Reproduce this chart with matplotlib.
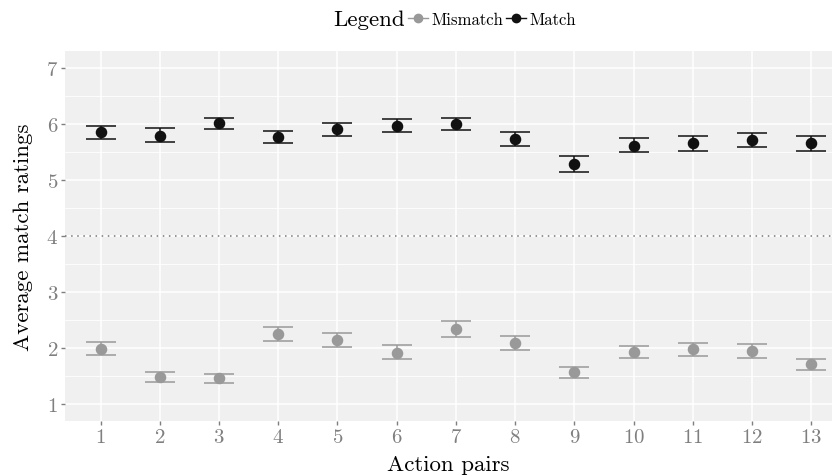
import matplotlib
matplotlib.use("Agg")
import matplotlib.pyplot as plt
from matplotlib.lines import Line2D
import numpy as np

plt.rcParams['font.family'] = ['cmr10', 'DejaVu Serif']
plt.rcParams['axes.formatter.use_mathtext'] = True
plt.rcParams['mathtext.fontset'] = 'cm'

pairs = np.arange(1, 14)

match_mean = [5.85, 5.79, 6.01, 5.77, 5.90, 5.97, 6.00, 5.73, 5.29, 5.61, 5.66, 5.71, 5.66]
match_lo = [5.73, 5.67, 5.91, 5.66, 5.78, 5.86, 5.89, 5.60, 5.15, 5.49, 5.51, 5.59, 5.52]
match_hi = [5.96, 5.92, 6.11, 5.88, 6.01, 6.08, 6.11, 5.85, 5.43, 5.74, 5.79, 5.83, 5.78]

mis_mean = [1.99, 1.48, 1.46, 2.25, 2.15, 1.92, 2.34, 2.10, 1.57, 1.93, 1.98, 1.94, 1.71]
mis_lo = [1.87, 1.39, 1.38, 2.12, 2.02, 1.80, 2.20, 1.96, 1.46, 1.82, 1.86, 1.82, 1.61]
mis_hi = [2.11, 1.57, 1.53, 2.37, 2.27, 2.05, 2.48, 2.22, 1.67, 2.04, 2.10, 2.07, 1.80]

c_match = '#111111'
c_mis = '#999999'

fig = plt.figure(figsize=(8.32, 4.77), dpi=100)
ax = fig.add_axes([65/832, 55/477, 767/832, 370/477])
ax.set_facecolor('#F0F0F0')
for s in ax.spines.values():
    s.set_visible(False)

ax.set_xlim(0.4, 13.35)
ax.set_ylim(0.7, 7.3)
ax.set_xticks(pairs)
ax.set_yticks(range(1, 8))
ax.set_yticks(np.arange(1.5, 7.5, 1), minor=True)
ax.grid(True, which='major', color='white', linewidth=1.1)
ax.yaxis.grid(True, which='minor', color='white', linewidth=0.6)
ax.tick_params(which='minor', left=False)
ax.tick_params(which='major', colors='#7F7F7F', labelsize=15, length=3, width=1, pad=2)
ax.tick_params(axis='both', labelcolor='#7F7F7F')
ax.set_axisbelow(True)

ax.axhline(4, color='#777777', linestyle=(0, (1, 3)), linewidth=1.1)

for mean, lo, hi, col in [(mis_mean, mis_lo, mis_hi, c_mis),
                          (match_mean, match_lo, match_hi, c_match)]:
    mean = np.array(mean)
    yerr = [mean - np.array(lo), np.array(hi) - mean]
    ax.errorbar(pairs, mean, yerr=yerr, fmt='o', color=col, markersize=7.3,
                capsize=10.8, capthick=1.1, elinewidth=1.1, zorder=3)

ax.set_xlabel('Action pairs', fontsize=16.5, labelpad=6)
ax.set_ylabel('Average match ratings', fontsize=16.5, labelpad=9)

fig.text(405/832, 1 - 20/477, 'Legend', fontsize=16.5, ha='right', va='center')
handles = [Line2D([], [], color=c_mis, marker='o', markersize=6, linewidth=1),
           Line2D([], [], color=c_match, marker='o', markersize=6, linewidth=1)]
fig.legend(handles, ['Mismatch', 'Match'], ncol=2, loc='center left',
           bbox_to_anchor=(408/832, 1 - 20/477), frameon=False, fontsize=12,
           handlelength=1.2, handletextpad=0.2, columnspacing=0.15,
           borderpad=0, borderaxespad=0)

fig.savefig('out.png', dpi=100)
